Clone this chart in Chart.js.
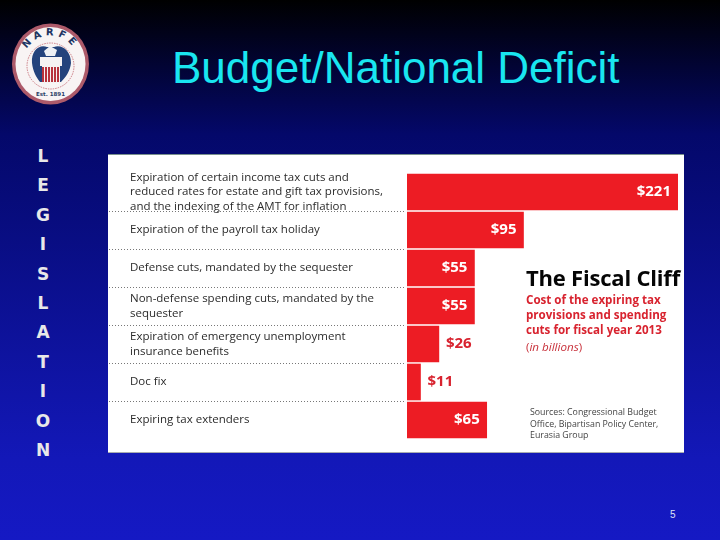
<!DOCTYPE html>
<html lang="en">

<head>
    <meta charset="UTF-8">
    <title>Budget/National Deficit</title>
    <script src="https://cdn.jsdelivr.net/npm/chart.js"></script>
    <style>
        html, body {
            margin: 0;
            padding: 0;
        }

        #slide {
            position: relative;
            width: 720px;
            height: 540px;
            overflow: hidden;
            background: linear-gradient(180deg, #000000 0%, #04086a 25%, #1318b8 85%, #1519c4 100%);
            font-family: "Liberation Sans", Arial, sans-serif;
        }

        #slide > * {
            position: absolute;
        }

        h1 {
            margin: 0;
            left: 172px;
            top: 41px;
            font-size: 44px;
            line-height: 54px;
            font-weight: normal;
            color: #19e6f0;
            white-space: nowrap;
        }

        #logo {
            left: 11px;
            top: 23px;
        }

        #side {
            left: 30px;
            top: 142px;
            width: 26px;
            text-align: center;
            font-family: "DejaVu Sans", sans-serif;
            font-weight: bold;
            font-size: 17px;
            line-height: 29.4px;
            color: #e8e8e8;
        }

        #panel {
            left: 108px;
            top: 154px;
            width: 576px;
            height: 299px;
            background: #fff;
        }

        #panel canvas {
            position: absolute;
            left: 0;
            top: 0;
        }

        .rule {
            left: 108px;
            width: 576px;
            height: 1px;
        }

        .note {
            white-space: nowrap;
            font-family: "Open Sans", sans-serif;
        }

        #page {
            left: 670px;
            top: 509px;
            font-size: 10px;
            color: #dfe4f5;
        }
    </style>
</head>

<body>
    <div id="slide">
        <svg id="logo" width="79" height="83" viewBox="0 0 79 83">
            <defs>
                <path id="arc" d="M11.5 41.5 A28 29 0 0 1 67.5 41.5" />
            </defs>
            <ellipse cx="39.5" cy="41" rx="38.5" ry="40.5" fill="#ad5a6a" />
            <ellipse cx="39.5" cy="41" rx="35" ry="37" fill="#f8f4f4" />
            <ellipse cx="39.5" cy="43" rx="23.5" ry="23" fill="none" stroke="#c0606a" stroke-width="0.8" stroke-dasharray="1.5 1" />
            <path d="M21 40 C20 28 28 21 36 24 L43 24 C51 21 60 28 60 40 C59 48 55 54 50 59 L29 59 C25 54 22 48 21 40 Z" fill="#24437c" />
            <path d="M33 28 L39 23 L46 27 L44 33 L35 33 Z" fill="#eef0f4" />
            <rect x="29" y="34" width="22" height="9" fill="#f5f2f2" />
            <rect x="31" y="43" width="18" height="17" fill="#f5f2f2" />
            <path d="M32 44 V59 M35 44 V59 M38 44 V59 M41 44 V59 M44 44 V59 M47 44 V59" stroke="#b8323c" stroke-width="2" />
            <text font-family="DejaVu Sans" font-weight="bold" font-size="10" letter-spacing="4" fill="#1d3563" text-anchor="middle">
                <textPath href="#arc" startOffset="50%">NARFE</textPath>
            </text>
            <text x="39.5" y="73" text-anchor="middle" font-family="DejaVu Sans" font-weight="bold" font-size="5.5" fill="#2a3f66">Est. 1891</text>
        </svg>

        <h1>Budget/National Deficit</h1>

        <div id="side">L<br>E<br>G<br>I<br>S<br>L<br>A<br>T<br>I<br>O<br>N</div>

        <div id="panel"><canvas id="chart" width="576" height="299"></canvas></div>
        <div class="rule" style="top:154px;background:#78908c"></div>
        <div class="rule" style="top:452px;background:#a8acb0"></div>

        <div class="note" style="left:526px;top:263px;font-size:22px;line-height:29px;font-weight:700;color:#050505;letter-spacing:-0.2px">The Fiscal Cliff</div>
        <div class="note" style="left:526px;top:292px;font-size:11.6px;line-height:15px;font-weight:bold;color:#d8232f">Cost of the expiring tax<br>provisions and spending<br>cuts for fiscal year 2013</div>
        <div class="note" style="left:526px;top:339px;font-size:11.6px;line-height:15px;color:#c8303a">(<i>in billions</i>)</div>
        <div class="note" style="left:530px;top:407px;font-size:8.8px;line-height:11.5px;color:#444">Sources: Congressional Budget<br>Office, Bipartisan Policy Center,<br>Eurasia Group</div>

        <div id="page">5</div>
    </div>

    <script>
        const categories = [
            ['Expiration of certain income tax cuts and', 'reduced rates for estate and gift tax provisions,', 'and the indexing of the AMT for inflation'],
            'Expiration of the payroll tax holiday',
            'Defense cuts, mandated by the sequester',
            ['Non-defense spending cuts, mandated by the', 'sequester'],
            ['Expiration of emergency unemployment', 'insurance benefits'],
            'Doc fix',
            'Expiring tax extenders'
        ];
        const costs = [221, 95, 55, 55, 26, 11, 65];
        const axisMax = 221;

        // labels for the bars, white inside unless the bar is too short
        const barLabels = {
            id: 'barLabels',
            afterDatasetsDraw(chart) {
                const c = chart.ctx;
                c.save();
                c.font = 'bold 15px "Open Sans", sans-serif';
                c.textBaseline = 'middle';
                chart.getDatasetMeta(0).data.forEach((bar, i) => {
                    const text = '$' + costs[i];
                    if (costs[i] < 30) {
                        c.fillStyle = '#d8232f';
                        c.textAlign = 'left';
                        c.fillText(text, bar.x + 7, bar.y);
                    } else {
                        c.fillStyle = '#fff';
                        c.textAlign = 'right';
                        c.fillText(text, bar.x - 7, bar.y);
                    }
                });
                c.restore();
            }
        };

        // dotted separators between rows, left of the bars
        const rowLines = {
            id: 'rowLines',
            afterDraw(chart) {
                const y = chart.scales.y;
                const c = chart.ctx;
                c.save();
                c.strokeStyle = '#777';
                c.lineWidth = 1;
                c.setLineDash([1, 2]);
                for (let i = 0; i < categories.length - 1; i++) {
                    const py = Math.round((y.getPixelForTick(i) + y.getPixelForTick(i + 1)) / 2) + 0.5;
                    c.beginPath();
                    c.moveTo(1, py);
                    c.lineTo(chart.chartArea.left - 1, py);
                    c.stroke();
                }
                c.restore();
            }
        };

        new Chart(document.getElementById('chart'), {
            type: 'bar',
            data: {
                labels: categories,
                datasets: [{
                    data: costs,
                    backgroundColor: '#ed1c24',
                    barThickness: 36
                }]
            },
            options: {
                indexAxis: 'y',
                responsive: false,
                animation: false,
                layout: { padding: { left: 22, top: 19, bottom: 14, right: 6 } },
                plugins: { legend: { display: false }, tooltip: { enabled: false } },
                scales: {
                    x: { display: false, min: 0, max: axisMax },
                    y: {
                        afterFit(scale) {
                            scale.width = 277;
                            scale.paddingTop = 0;
                            scale.paddingBottom = 0;
                        },
                        border: { display: false },
                        grid: { display: false },
                        ticks: {
                            crossAlign: 'far',
                            color: '#2b2b2b',
                            autoSkip: false,
                            font: { family: '"Open Sans", sans-serif', size: 11.5, lineHeight: 1.27 }
                        }
                    }
                }
            },
            plugins: [barLabels, rowLines]
        });
    </script>
</body>

</html>
